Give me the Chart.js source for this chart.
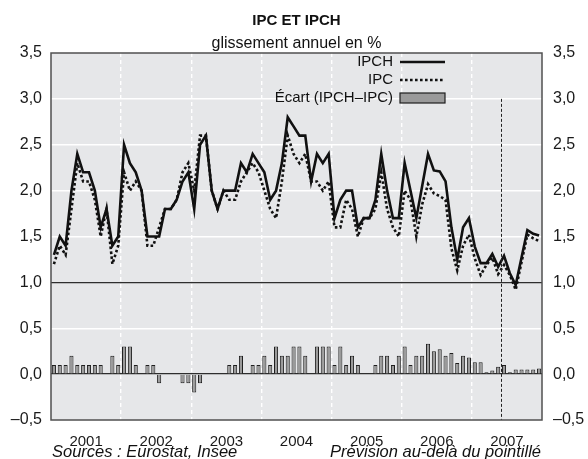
<!DOCTYPE html>
<html>
<head>
<meta charset="utf-8">
<script src="https://cdn.jsdelivr.net/npm/chart.js@4.4.1/dist/chart.umd.min.js"></script>
<style>
  html, body { margin:0; padding:0; background:#fff; }
  #wrap { width:588px; height:459px; }
</style>
</head>
<body>
<div id="wrap"><canvas id="chart"></canvas></div>
<script>
// ----------------- DATA -----------------
const YEARS  = ['2001','2002','2003','2004','2005','2006','2007'];
const MONTHS = ['janv.','févr.','mars','avr.','mai','juin','juil.','août','sept.','oct.','nov.','déc.'];

// glissement annuel en %, janv. 2001 -> déc. 2007
const IPCH = [
  1.3, 1.5, 1.4, 2.0, 2.4, 2.2, 2.2, 2.0, 1.6, 1.8, 1.4, 1.5,
  2.5, 2.3, 2.2, 2.0, 1.5, 1.5, 1.5, 1.8, 1.8, 1.9, 2.1, 2.2,
  1.8, 2.5, 2.6, 2.0, 1.8, 2.0, 2.0, 2.0, 2.3, 2.2, 2.4, 2.3,
  2.2, 1.9, 2.0, 2.3, 2.8, 2.7, 2.6, 2.6, 2.1, 2.4, 2.3, 2.4,
  1.7, 1.9, 2.0, 2.0, 1.6, 1.7, 1.7, 1.9, 2.4, 2.0, 1.7, 1.7,
  2.3, 2.0, 1.7, 2.05, 2.4, 2.22, 2.21, 2.1, 1.6, 1.25, 1.6, 1.7,
  1.39, 1.21, 1.21, 1.31, 1.17, 1.29, 1.10, 0.97, 1.27, 1.57, 1.53, 1.51
];
const IPC = [
  1.2, 1.4, 1.3, 1.8, 2.3, 2.1, 2.1, 1.9, 1.5, 1.8, 1.2, 1.4,
  2.2, 2.0, 2.1, 2.0, 1.4, 1.4, 1.6, 1.8, 1.8, 1.9, 2.2, 2.3,
  2.0, 2.6, 2.6, 2.0, 1.8, 2.0, 1.9, 1.9, 2.1, 2.2, 2.3, 2.2,
  2.0, 1.8, 1.7, 2.1, 2.6, 2.4, 2.3, 2.4, 2.1, 2.1, 2.0, 2.1,
  1.6, 1.6, 1.9, 1.8, 1.5, 1.7, 1.7, 1.8, 2.2, 1.8, 1.6, 1.5,
  2.0, 1.9, 1.5, 1.85, 2.07, 1.97, 1.94, 1.9, 1.37, 1.13, 1.4, 1.52,
  1.26, 1.08, 1.19, 1.27, 1.09, 1.19, 1.08, 0.92, 1.22, 1.52, 1.48, 1.45
];
const ECART = [
  0.1, 0.1, 0.1, 0.2, 0.1, 0.1, 0.1, 0.1, 0.1, 0, 0.2, 0.1,
  0.3, 0.3, 0.1, 0, 0.1, 0.1, -0.1, 0, 0, 0, -0.1, -0.1,
  -0.2, -0.1, 0, 0, 0, 0, 0.1, 0.1, 0.2, 0, 0.1, 0.1,
  0.2, 0.1, 0.3, 0.2, 0.2, 0.3, 0.3, 0.2, 0, 0.3, 0.3, 0.3,
  0.1, 0.3, 0.1, 0.2, 0.1, 0, 0, 0.1, 0.2, 0.2, 0.1, 0.2,
  0.3, 0.1, 0.2, 0.2, 0.33, 0.25, 0.27, 0.2, 0.23, 0.12, 0.2, 0.18,
  0.13, 0.13, 0.02, 0.04, 0.08, 0.1, 0.02, 0.05, 0.05, 0.05, 0.05, 0.06
];
const Y_MIN = -0.5, Y_MAX = 3.5, Y_STEP = 0.5;
const FORECAST_FROM = 77;   // first forecast month (juin 2007)
const FORECAST_TOP = 3.0;

const TITLE = 'IPC ET IPCH';
const SUBTITLE = 'glissement annuel en %';
const SOURCE = 'Sources : Eurostat, Insee';
const NOTE = 'Prévision au-delà du pointillé';
// ------------------------------------------

const FONT = '"Liberation Sans", Arial, Helvetica, sans-serif';
Chart.defaults.font.family = FONT;
Chart.defaults.color = '#1a1a1a';

const labels = YEARS.flatMap(y => MONTHS.map(m => m + ' ' + y));
const fmt = v => (v < 0 ? '–' : '') + Math.abs(v).toFixed(1).replace('.', ',');
const near = (a, b) => Math.abs(a - b) < 1e-6;

// grey plot background, frame, forecast marker, texts and legend
const decor = {
  id: 'decor',
  beforeDraw(chart){
    const {ctx, chartArea:a} = chart;
    ctx.save();
    ctx.fillStyle = '#e6e7e9';
    ctx.fillRect(a.left, a.top, a.right - a.left, a.bottom - a.top);
    ctx.restore();
  },
  afterDatasetsDraw(chart){
    const {ctx, chartArea:a, scales} = chart;
    const xs = scales.x, ys = scales.y;
    ctx.save();
    // forecast dashed line
    const fx = (xs.getPixelForValue(FORECAST_FROM - 1) + xs.getPixelForValue(FORECAST_FROM)) / 2;
    ctx.strokeStyle = '#222';
    ctx.lineWidth = 1;
    ctx.setLineDash([3, 2]);
    ctx.beginPath();
    ctx.moveTo(Math.round(fx) + 0.5, ys.getPixelForValue(FORECAST_TOP));
    ctx.lineTo(Math.round(fx) + 0.5, a.bottom);
    ctx.stroke();
    // frame
    ctx.setLineDash([]);
    ctx.strokeStyle = '#505050';
    ctx.lineWidth = 1.5;
    ctx.strokeRect(a.left, a.top, a.right - a.left, a.bottom - a.top);
    ctx.restore();
  },
  afterDraw(chart){
    const {ctx, chartArea:a} = chart;
    const cx = (a.left + a.right) / 2;
    ctx.save();
    ctx.fillStyle = '#111';
    ctx.textAlign = 'center';
    ctx.textBaseline = 'middle';
    ctx.font = 'bold 15px ' + FONT;
    ctx.fillText(TITLE, cx, 21);
    ctx.font = '16px ' + FONT;
    ctx.fillText(SUBTITLE, cx, 44);

    ctx.font = 'italic 16.5px ' + FONT;
    ctx.textAlign = 'left';
    ctx.fillText(SOURCE, a.left + 1, 452);
    ctx.textAlign = 'right';
    ctx.fillText(NOTE, a.right - 1, 452);

    // legend: text right-aligned, sample on the right
    ctx.font = '15px ' + FONT;
    const order = [1, 2, 0];
    order.forEach((di, i) => {
      const ds = chart.data.datasets[di];
      const y = 62 + i * 18;
      ctx.fillStyle = '#111';
      ctx.textAlign = 'right';
      ctx.fillText(ds.label, 393, y);
      if (ds.type === 'line') {
        ctx.strokeStyle = ds.borderColor;
        ctx.lineWidth = ds.borderWidth;
        ctx.setLineDash(ds.borderDash || []);
        ctx.beginPath();
        ctx.moveTo(400, y);
        ctx.lineTo(445, y);
        ctx.stroke();
        ctx.setLineDash([]);
      } else {
        ctx.fillStyle = ds.backgroundColor;
        ctx.fillRect(400, y - 5, 45, 10);
        ctx.strokeStyle = ds.borderColor;
        ctx.lineWidth = 1.2;
        ctx.strokeRect(400, y - 5, 45, 10);
      }
    });
    ctx.restore();
  }
};

new Chart(document.getElementById('chart'), {
  type: 'bar',
  data: {
    labels,
    datasets: [
      {
        type: 'bar', label: 'Écart (IPCH–IPC)', data: ECART,
        backgroundColor: '#9a9a9a', borderColor: '#1e1e1e', borderWidth: 1,
        barPercentage: 0.7, categoryPercentage: 1, order: 3
      },
      {
        type: 'line', label: 'IPCH', data: IPCH,
        borderColor: '#111', borderWidth: 2.6, pointRadius: 0, tension: 0, order: 1
      },
      {
        type: 'line', label: 'IPC', data: IPC,
        borderColor: '#111', borderWidth: 2.6, borderDash: [2.6, 2.4], pointRadius: 0, tension: 0, order: 2
      }
    ]
  },
  options: {
    responsive: true,
    maintainAspectRatio: false,
    animation: false,
    layout: { padding: { top: 53, left: 0, right: 0, bottom: 0 } },
    plugins: { legend: { display: false }, tooltip: { enabled: false } },
    scales: {
      x: {
        offset: true,
        grid: {
          offset: true, drawTicks: false, lineWidth: 1.4,
          color: c => (c.index % 12 === 0 && c.index > 0) ? '#ffffff' : 'rgba(0,0,0,0)'
        },
        border: { display: false, dash: [4, 3] },
        ticks: {
          autoSkip: false, maxRotation: 0, minRotation: 0, padding: 13,
          labelOffset: -2.9, font: { size: 15 }, color: '#1a1a1a',
          callback: (v, i) => (i % 12 === 6 ? YEARS[Math.floor(i / 12)] : '')
        },
        afterFit: s => { s.height = 39; }
      },
      y: {
        position: 'left', min: Y_MIN, max: Y_MAX,
        ticks: { stepSize: Y_STEP, padding: 9, font: { size: 16 }, color: '#1a1a1a', callback: fmt },
        grid: {
          drawTicks: false,
          color: c => {
            const v = c.tick.value;
            if (near(v, 0) || near(v, 1)) return '#2e2e2e';
            if (near(v, Y_MIN) || near(v, Y_MAX)) return 'rgba(0,0,0,0)';
            return '#ffffff';
          },
          lineWidth: c => (near(c.tick.value, 0) || near(c.tick.value, 1)) ? 1.3 : 1.5
        },
        border: { display: false },
        afterFit: s => { s.width = 51; }
      },
      y2: {
        position: 'right', min: Y_MIN, max: Y_MAX,
        ticks: { stepSize: Y_STEP, padding: 11, font: { size: 16 }, color: '#1a1a1a', callback: fmt },
        grid: { display: false, drawTicks: false },
        border: { display: false },
        afterFit: s => { s.width = 46; }
      }
    }
  },
  plugins: [decor]
});
</script>
</body>
</html>
